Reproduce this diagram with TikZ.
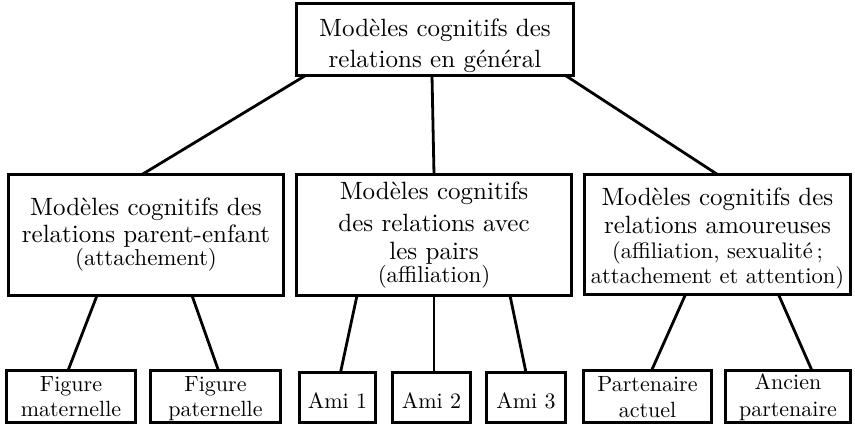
\documentclass[tikz,border=0pt]{standalone}
\usepackage{fontspec}
\setmainfont{lmroman10-regular.otf}[BoldFont=lmroman10-bold.otf, ItalicFont=lmroman10-italic.otf]
\begin{document}
\begin{tikzpicture}[x=1pt,y=-1pt,
  box/.style={draw=black, line width=2.8pt, rectangle, inner sep=0pt, outer sep=0pt, align=center, fill=white},
  main/.style={font=\fontsize{25}{27}\selectfont},
  leaf/.style={font=\fontsize{22}{24}\selectfont},
  conn/.style={line width=2.8pt}]
\useasboundingbox (0,0) rectangle (855,424);
% top
\node[box, main, minimum width=277pt, minimum height=72pt, text height=63.5pt, text depth=8.5pt] (top) at (435,39.5)
  {Modèles cognitifs des\\[4pt]relations en général};
% middle level
\node[box, main, minimum width=275pt, minimum height=121pt, text height=90.5pt, text depth=30.5pt] (L) at (146,235)
  {Modèles cognitifs des\\relations parent-enfant\\[-4pt]{\fontsize{23}{24}\selectfont (attachement)}};
\node[box, main, minimum width=275pt, minimum height=121pt, text height=107.5pt, text depth=13.5pt] (M) at (434,235)
  {Modèles cognitifs\\[5pt]des relations avec\\[1pt]les pairs\\[-4pt]{\fontsize{23}{24}\selectfont (affiliation)}};
\node[box, main, minimum width=266pt, minimum height=120pt, text height=108.5pt, text depth=11.5pt] (R) at (717.5,234.5)
  {Modèles cognitifs des\\[1pt]relations amoureuses\\[-2pt]{\fontsize{22.5}{24}\selectfont (affiliation, sexualité\,;}\\[-2pt]{\fontsize{22.5}{24}\selectfont attachement et attention)}};
% bottom level
\node[box, leaf, minimum width=129pt, minimum height=52pt, text height=46pt, text depth=6pt] (FM) at (71,396.6) {Figure\\[1pt]maternelle};
\node[box, leaf, minimum width=130pt, minimum height=52pt, text height=46pt, text depth=6pt] (FP) at (215.5,396.6) {Figure\\[1pt]paternelle};
\node[box, leaf, minimum width=76pt, minimum height=50pt, text height=35.6pt, text depth=14.4pt] (A1) at (337.5,397.5) {Ami 1};
\node[box, leaf, minimum width=78pt, minimum height=50pt, text height=35.6pt, text depth=14.4pt] (A2) at (431.5,397.5) {Ami 2};
\node[box, leaf, minimum width=79pt, minimum height=50pt, text height=35.6pt, text depth=14.4pt] (A3) at (526,397.5) {Ami 3};
\node[box, leaf, minimum width=128pt, minimum height=52pt, text height=46.7pt, text depth=5.3pt] (PA) at (647.5,396.6) {Partenaire\\[1.6pt]actuel};
\node[box, leaf, minimum width=125pt, minimum height=52pt, text height=45.4pt, text depth=6.6pt] (AP) at (788,396.6) {Ancien\\[3pt]partenaire};
% connectors
\draw[conn] ([xshift=9pt]top.south west) -- ([xshift=-4pt]L.north);
\draw[conn] ([xshift=-3pt]top.south) -- (M.north);
\draw[conn] ([xshift=-8pt]top.south east) -- (R.north);
\draw[conn] ([xshift=-49pt]L.south) -- ([xshift=-3pt]FM.north);
\draw[conn] ([xshift=46pt]L.south) -- ([xshift=3pt]FP.north);
\draw[conn] ([xshift=-77pt]M.south) -- ([xshift=3pt]A1.north);
\draw[conn] (M.south) -- ([xshift=2.5pt]A2.north);
\draw[conn] ([xshift=76pt]M.south) -- (A3.north);
\draw[conn] ([xshift=-32pt]R.south) -- ([xshift=4pt]PA.north);
\draw[conn] ([xshift=61pt]R.south) -- ([xshift=24pt]AP.north);
\end{tikzpicture}
\end{document}
